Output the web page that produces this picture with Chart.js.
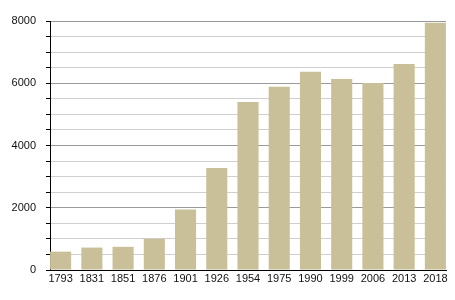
<!DOCTYPE html>
<html>
<head>
<meta charset="utf-8">
<script src="https://cdn.jsdelivr.net/npm/chart.js@4/dist/chart.umd.min.js"></script>
<style>
  html, body { margin: 0; padding: 0; background: #fff; }
</style>
</head>
<body>
<canvas id="pop" width="455" height="300"></canvas>
<script>
// années du recensement
const years = ["1793", "1831", "1851", "1876", "1901", "1926", "1954", "1975", "1990", "1999", "2006", "2013", "2018"];
// population
const population = [590, 720, 745, 1000, 1940, 3280, 5400, 5890, 6370, 6140, 6010, 6620, 7940];
const yMax = 8000;
const yStep = 500;
const labelStep = 2000;

// les barres touchent l'axe : position x = index de l'année
const points = population.map(function(v, i) { return { x: i, y: v }; });

new Chart(document.getElementById("pop"), {
    type: 'bar',
    data: {
        datasets: [{
            data: points,
            backgroundColor: "#C9BF98",
            categoryPercentage: 0.675,
            barPercentage: 1.0
        }]
    },
    options: {
        responsive: false,
        animation: false,
        layout: { padding: { left: 0, right: 9, top: 21, bottom: 0 } },
        plugins: { legend: { display: false }, tooltip: { enabled: false } },
        scales: {
            x: {
                type: 'linear',
                offset: false,
                min: -0.34,
                max: years.length - 1 + 0.34,
                grid: { display: false, drawTicks: false, offset: false },
                border: { color: "#000", width: 1 },
                afterBuildTicks: function(axis) {
                    axis.ticks = years.map(function(y, i) { return { value: i }; });
                },
                ticks: {
                    color: "#111",
                    font: { family: "Liberation Sans", size: 11 },
                    padding: 2, maxRotation: 0, autoSkip: false,
                    callback: function(v) { return years[v]; }
                },
                afterFit: function(axis) { axis.height = 30; }
            },
            y: {
                min: 0,
                max: yMax,
                border: { color: "#000", width: 1 },
                grid: {
                    color: function(ctx) {
                        return ctx.tick && ctx.tick.value % labelStep === 0 ? "#9a9a9a" : "#cfcfcf";
                    },
                    tickColor: "#000",
                    tickLength: 4
                },
                ticks: {
                    stepSize: yStep,
                    autoSkip: false,
                    color: "#111",
                    padding: 10,
                    font: { family: "Liberation Sans", size: 11 },
                    callback: function(v) { return v % labelStep === 0 ? v : ""; }
                },
                afterFit: function(axis) { axis.width = 50; }
            }
        }
    }
});
</script>
</body>
</html>
